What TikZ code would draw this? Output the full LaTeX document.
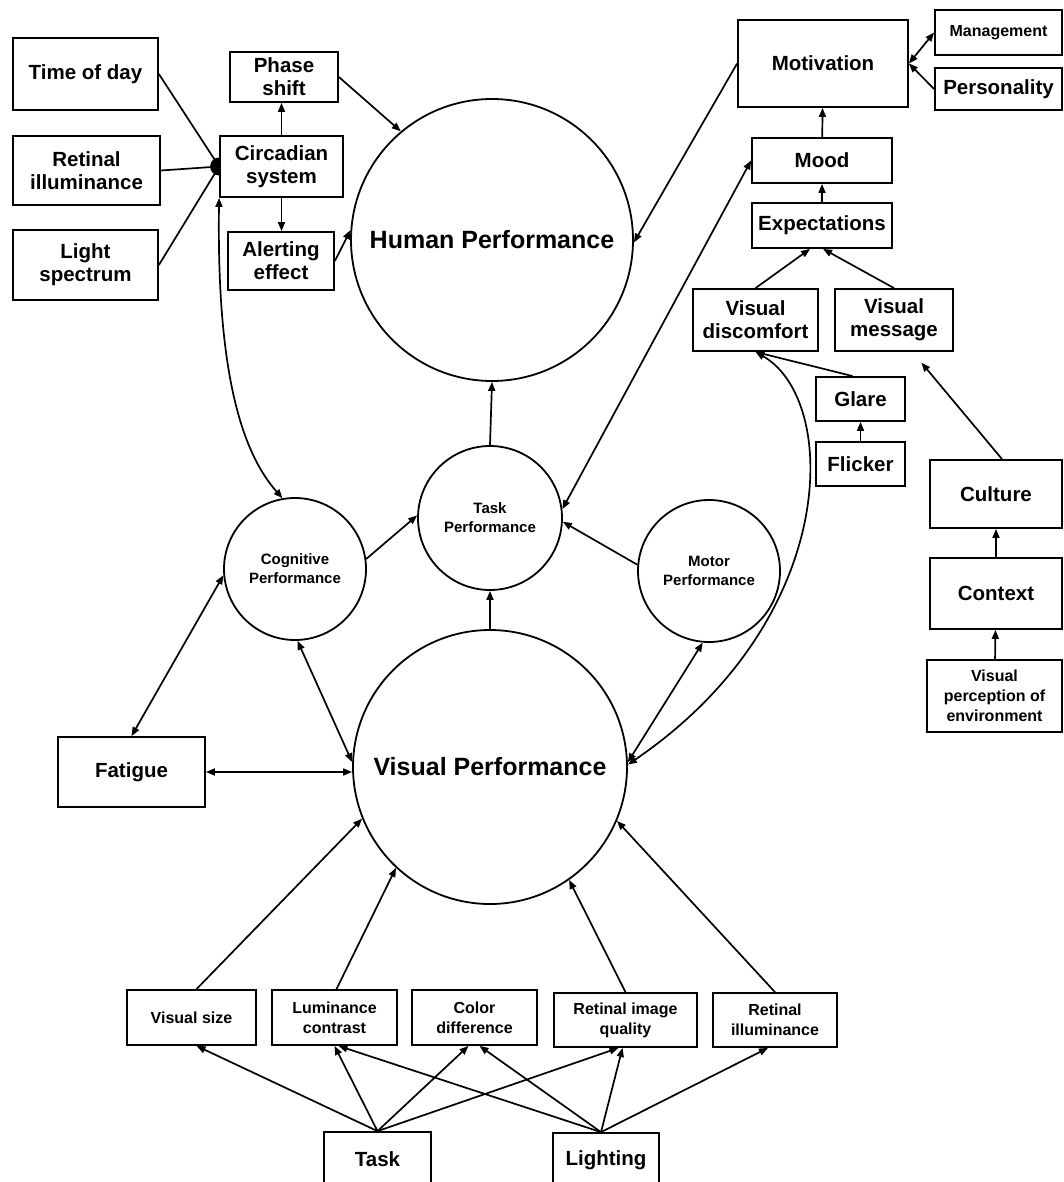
\documentclass[tikz,border=0pt]{standalone}
\usepackage{fontspec}
\setmainfont{Liberation Sans}
\usetikzlibrary{arrows.meta}

\tikzset{
  box/.style={draw, line width=1.8pt, align=center, inner sep=1pt, font=\bfseries\fontsize{20.5}{23}\selectfont},
  sbox/.style={box, font=\bfseries\fontsize{16}{20}\selectfont},
  perf/.style={draw, circle, line width=1.8pt, align=center, inner sep=0pt, font=\bfseries\fontsize{15}{19}\selectfont},
  bigperf/.style={perf, font=\bfseries\fontsize{25}{28}\selectfont},
  arr/.style={line width=1.7pt, -{Triangle[length=9pt,width=7pt]}},
  darr/.style={line width=1.7pt, {Triangle[length=9pt,width=7pt]}-{Triangle[length=9pt,width=7pt]}},
}

\begin{document}
\begin{tikzpicture}[x=1pt,y=1pt,yscale=-1,xscale=1]
\useasboundingbox (0,0) rectangle (1064,1182);

%Shape: Circle (performance)
\node[bigperf, minimum size=282pt] (hp) at (492,240) {Human Performance};
\node[perf, minimum size=144pt] (tp) at (490,518) {Task\\Performance};
\node[perf, minimum size=142pt] (cog) at (295,569) {Cognitive\\Performance};
\node[perf, minimum size=142pt] (mot) at (709,571) {Motor\\Performance};
\node[bigperf, minimum size=274pt] (vp) at (490,767) {Visual Performance};

% Text Node (circadian side)
\node[box, minimum width=145pt, minimum height=72pt] (tod) at (85.5,74) {Time of day};
\node[box, minimum width=147pt, minimum height=69pt] (retl) at (86.5,170.5) {Retinal\\illuminance};
\node[box, minimum width=145pt, minimum height=70pt] (spec) at (85.5,265) {Light\\spectrum};
\node[box, minimum width=108pt, minimum height=50pt] (phase) at (284,77) {Phase\\shift};
\node[box, minimum width=123pt, minimum height=61pt] (circ) at (281.5,166.5) {Circadian\\system};
\node[box, minimum width=106pt, minimum height=58pt] (alert) at (281,261) {Alerting\\effect};
\node[box, minimum width=147pt, minimum height=70pt] (fat) at (131.5,772) {Fatigue};

% Text Node (motivation side)
\node[box, minimum width=170pt, minimum height=87pt] (motiv) at (823,63.5) {Motivation};
\node[sbox, minimum width=127pt, minimum height=45pt] (mgmt) at (998.5,32.5) {Management};
\node[box, minimum width=127pt, minimum height=42pt] (pers) at (998.5,89) {Personality};
\node[box, minimum width=140pt, minimum height=45pt] (mood) at (822,160.5) {Mood};
\node[box, minimum width=140pt, minimum height=45pt] (expect) at (822,225.5) {Expectations};
\node[box, minimum width=125pt, minimum height=62pt] (vdis) at (755.5,320) {Visual\\discomfort};
\node[box, minimum width=118pt, minimum height=62pt] (vmsg) at (894,320) {Visual\\message};
\node[box, minimum width=89pt, minimum height=44pt] (glare) at (860.5,399) {Glare};
\node[box, minimum width=89pt, minimum height=44pt] (flick) at (860.5,464) {Flicker};
\node[box, minimum width=132pt, minimum height=68pt] (cult) at (996,494) {Culture};
\node[box, minimum width=132pt, minimum height=71pt] (ctx) at (996,593.5) {Context};
\node[sbox, minimum width=135pt, minimum height=72pt] (vpe) at (994.5,696) {Visual\\perception of\\environment};

% Text Node (bottom row)
\node[sbox, minimum width=129pt, minimum height=55pt] (vsize) at (191.5,1017.5) {Visual size};
\node[sbox, minimum width=125pt, minimum height=55pt] (lum) at (334.5,1017.5) {Luminance\\contrast};
\node[sbox, minimum width=125pt, minimum height=55pt] (col) at (474.5,1017.5) {Color\\difference};
\node[sbox, minimum width=143pt, minimum height=54pt] (riq) at (625.5,1020) {Retinal image\\quality};
\node[sbox, minimum width=124pt, minimum height=54pt] (rill) at (775,1020) {Retinal\\illuminance};
\node[box, minimum width=107pt, minimum height=54pt] (task) at (377.5,1159) {Task};
\node[box, minimum width=106pt, minimum height=54pt] (light) at (606,1160) {Lighting};

%Shape: junction into circadian system
\coordinate (jn) at (circ.west);
\draw[line width=1.7pt] (tod.east) -- (jn);
\draw[line width=1.7pt] (retl.east) -- (jn);
\draw[line width=1.7pt] (spec.east) -- (jn);
\fill (jn) ++(0,-9) arc[start angle=270, end angle=90, radius=9] -- cycle;

% circadian links
\draw[arr] (circ.north) -- (circ.north |- phase.south);
\draw[arr] (circ.south) -- (circ.south |- alert.north);
\draw[arr] (phase.east) -- (hp.130);
\draw[arr] (alert.east) -- (hp.176);
\draw[darr] (circ.south west) .. controls (217,350) and (235,445) .. (cog.100);

% motivation links
\draw[arr] (motiv.west) -- (hp.-1);
\draw[darr] (motiv.east) -- (mgmt.west);
\draw[arr] (pers.west) -- (motiv.east);
\draw[arr] (mood) -- (motiv);
\draw[arr] (expect) -- (mood);
\draw[arr] (vdis.north) -- ([xshift=-12pt]expect.south);
\draw[arr] (vmsg.north) -- ([xshift=1pt]expect.south);
\draw[arr] ([xshift=-8pt]glare.north) -- (vdis.south);
\draw[arr] (flick) -- (glare);
\draw[arr, shorten >=14pt] ([xshift=6pt]cult.north) -- (vmsg.-60);
\draw[arr] (ctx) -- (cult);
\draw[arr] (vpe) -- (ctx);

% performance links
\draw[darr] (tp.7) -- (mood.west);
\draw[arr] (tp.north) -- (hp.south);
\draw[arr] (vp.north) -- (tp.south);
\draw[arr] (cog.8) -- (tp.178);
\draw[arr] (mot.175) -- (tp.-3);
\draw[darr] (cog.-88) -- (vp.178);
\draw[darr] (cog.185) -- (fat.north);
\draw[darr] (fat.east) -- (fat.east -| vp.west);
\draw[darr] (vp.2) -- (mot.-95);
\draw[darr] (vp.1) .. controls (840,620) and (840,400) .. (vdis.south);

% inputs to visual performance
\draw[arr] ([xshift=5pt]vsize.north) -- (vp.202);
\draw[arr] ([xshift=2pt]lum.north) -- (vp.227);
\draw[arr] (riq.north) -- (vp.-55);
\draw[arr] (rill.north) -- (vp.-23);

% task and lighting
\draw[arr] (task.north) -- ([xshift=5pt]vsize.south);
\draw[arr] (task.north) -- (lum.south);
\draw[arr] (task.north) -- ([xshift=-6pt]col.south);
\draw[arr] (task.north) -- ([xshift=-7pt]riq.south);
\draw[arr] ([xshift=-5pt]light.north) -- ([xshift=4pt]lum.south);
\draw[arr] ([xshift=-5pt]light.north) -- ([xshift=5pt]col.south);
\draw[arr] ([xshift=-5pt]light.north) -- ([xshift=-3pt]riq.south);
\draw[arr] ([xshift=-5pt]light.north) -- ([xshift=-7pt]rill.south);
\end{tikzpicture}
\end{document}
